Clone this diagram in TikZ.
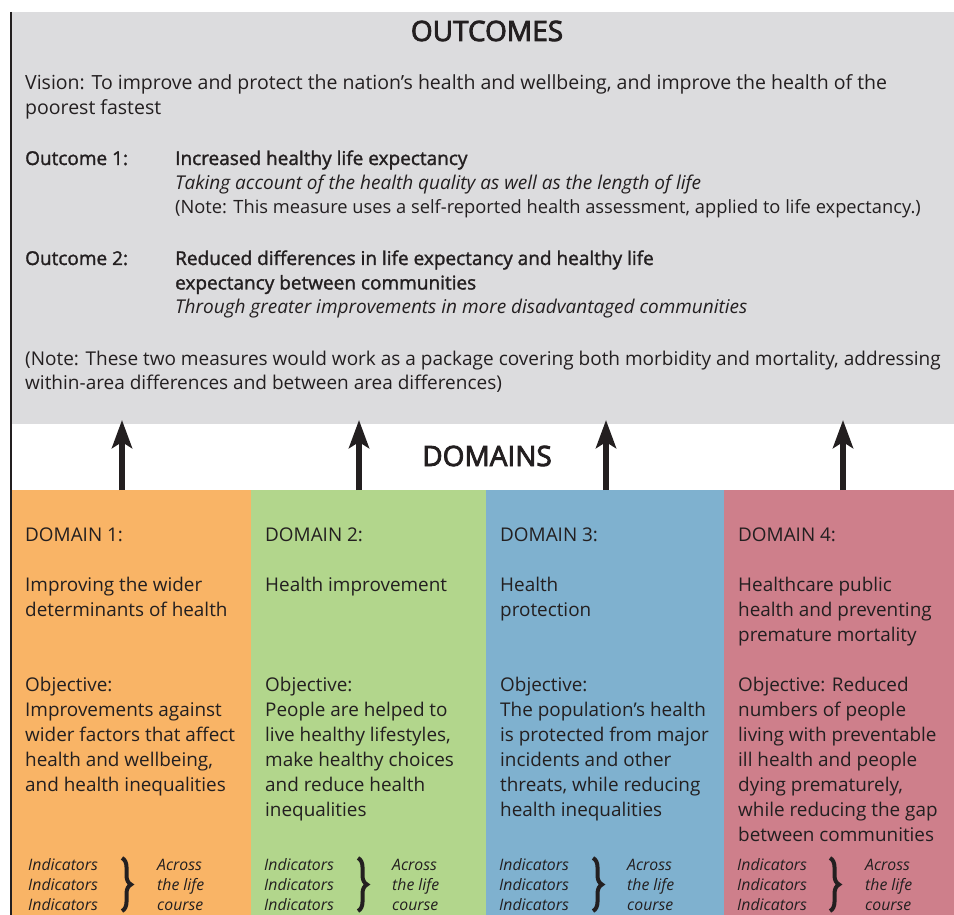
\documentclass[tikz,border=0pt]{standalone}
\usepackage{fontspec}
\setmainfont{Open Sans}
\usetikzlibrary{arrows.meta,decorations.pathreplacing}
\definecolor{gbg}{HTML}{DCDCDE}
\definecolor{c1}{HTML}{F9B466}
\definecolor{c2}{HTML}{B2D68C}
\definecolor{c3}{HTML}{7FB1CF}
\definecolor{c4}{HTML}{CE7F8B}
\definecolor{ink}{HTML}{231F20}
\newcommand\ml[1]{\begin{tabular}[t]{@{}l@{}}#1\end{tabular}}
\newcommand\semi[1]{{\addfontfeature{FakeBold=1.5}#1}}
\newcommand\fs[1]{\fontsize{#1}{24.5}\selectfont}
\begin{document}
\begin{tikzpicture}[x=1pt,y=-1pt,
  box/.style={anchor=north west,inner sep=0pt,outer sep=0pt,draw=none},
  txt/.style={anchor=base west,inner sep=0pt,text=ink,font=\fontsize{19}{24.5}\selectfont},
  dtxt/.style={anchor=base west,inner sep=0pt,text=ink,font=\fontsize{18.9}{25}\selectfont},
  ind/.style={anchor=base west,inner sep=0pt,text=ink,font=\fontsize{15.8}{20}\selectfont\itshape},
  head/.style={anchor=base,inner sep=0pt,text=ink,font=\fontsize{28}{30}\selectfont\addfontfeature{FakeBold=3}},
  bigarr/.style={line width=6.5pt,draw=ink,-{Stealth[length=28pt,width=20pt,inset=6pt]}},
  brc/.style={draw=ink,line width=4pt,decorate,decoration={brace,amplitude=9pt}}]
\useasboundingbox (0,0) rectangle (954,915);
\fill[white] (0,0) rectangle (954,915);
% boxes
\node[box,fill=gbg,minimum width=942pt,minimum height=412pt] (outcomes) at (12,12) {};
\node[box,fill=c1,minimum width=239pt,minimum height=425pt] (d1) at (12,490) {};
\node[box,fill=c2,minimum width=235pt,minimum height=425pt] (d2) at (251,490) {};
\node[box,fill=c3,minimum width=238pt,minimum height=425pt] (d3) at (486,490) {};
\node[box,fill=c4,minimum width=230pt,minimum height=425pt] (d4) at (724,490) {};
\draw[ink,line width=2pt] (11,12) -- (11,915);
% outcomes text
\node[head] (th) at (487,41) {OUTCOMES};
\node[txt] (vis) at (25,90) {\ml{\fs{19.5}Vision: To improve and protect the nation’s health and wellbeing, and improve the health of the\\\fs{19.5}poorest fastest}};
\node[txt] (o1l) at (25,165) {\semi{Outcome 1:}};
\node[txt] (o1t) at (175,165) {\ml{\semi{Increased healthy life expectancy}\\\itshape Taking account of the health quality as well as the length of life\\\fs{18.3}(Note: This measure uses a self-reported health assessment, applied to life expectancy.)}};
\node[txt] (o2l) at (25,265) {\semi{Outcome 2:}};
\node[txt] (o2t) at (175,265) {\ml{\semi{Reduced differences in life expectancy and healthy life}\\\semi{expectancy between communities}\\\itshape Through greater improvements in more disadvantaged communities}};
\node[txt] (note) at (25,365) {\ml{(Note: These two measures would work as a package covering both morbidity and mortality, addressing\\within-area differences and between area differences)}};
% domains heading
\node[head] (dh) at (487,466) {DOMAINS};
% arrows
\coordinate (a1) at (122,0);
\coordinate (a2) at (359,0);
\coordinate (a3) at (606,0);
\coordinate (a4) at (843,0);
\draw[bigarr,shorten >=-4pt] (d1.north -| a1) -- (outcomes.south -| a1);
\draw[bigarr,shorten >=-4pt] (d2.north -| a2) -- (outcomes.south -| a2);
\draw[bigarr,shorten >=-4pt] (d3.north -| a3) -- (outcomes.south -| a3);
\draw[bigarr,shorten >=-4pt] (d4.north -| a4) -- (outcomes.south -| a4);
% domain 1
\node[dtxt] (h1) at (25,541) {DOMAIN 1:};
\node[dtxt] (t1) at (25,591) {\ml{Improving the wider\\determinants of health}};
\node[dtxt] (b1) at (25,691) {\ml{Objective:\\Improvements against\\wider factors that affect\\health and wellbeing,\\and health inequalities}};
% domain 2
\node[dtxt] (h2) at (265,541) {DOMAIN 2:};
\node[dtxt] (t2) at (265,591) {Health improvement};
\node[dtxt] (b2) at (265,691) {\ml{Objective:\\People are helped to\\live healthy lifestyles,\\make healthy choices\\and reduce health\\inequalities}};
% domain 3
\node[dtxt] (h3) at (500,541) {DOMAIN 3:};
\node[dtxt] (t3) at (500,591) {\ml{Health\\protection}};
\node[dtxt] (b3) at (500,691) {\ml{Objective:\\The population’s health\\is protected from major\\incidents and other\\threats, while reducing\\health inequalities}};
% domain 4
\node[dtxt] (h4) at (738,541) {DOMAIN 4:};
\node[dtxt] (t4) at (738,591) {\ml{Healthcare public\\health and preventing\\premature mortality}};
\node[dtxt] (b4) at (738,691) {\ml{Objective: Reduced\\numbers of people\\living with preventable\\ill health and people\\dying prematurely,\\while reducing the gap\\between communities}};
% indicators
\foreach \i/\xi/\xb/\xa in {1/28/122/157, 2/264/358/392, 3/499/593/627, 4/737/830/865}{
  \node[ind] (ind\i) at (\xi,870) {\ml{Indicators\\Indicators\\Indicators}};
  \node[ind] (acr\i) at (\xa,870) {\ml{Across\\the life\\course}};
  \coordinate (bt\i) at (\xb,858);
  \coordinate (bb\i) at (\xb,911);
  \draw[brc] (bt\i) -- (bb\i);
}
\end{tikzpicture}
\end{document}
